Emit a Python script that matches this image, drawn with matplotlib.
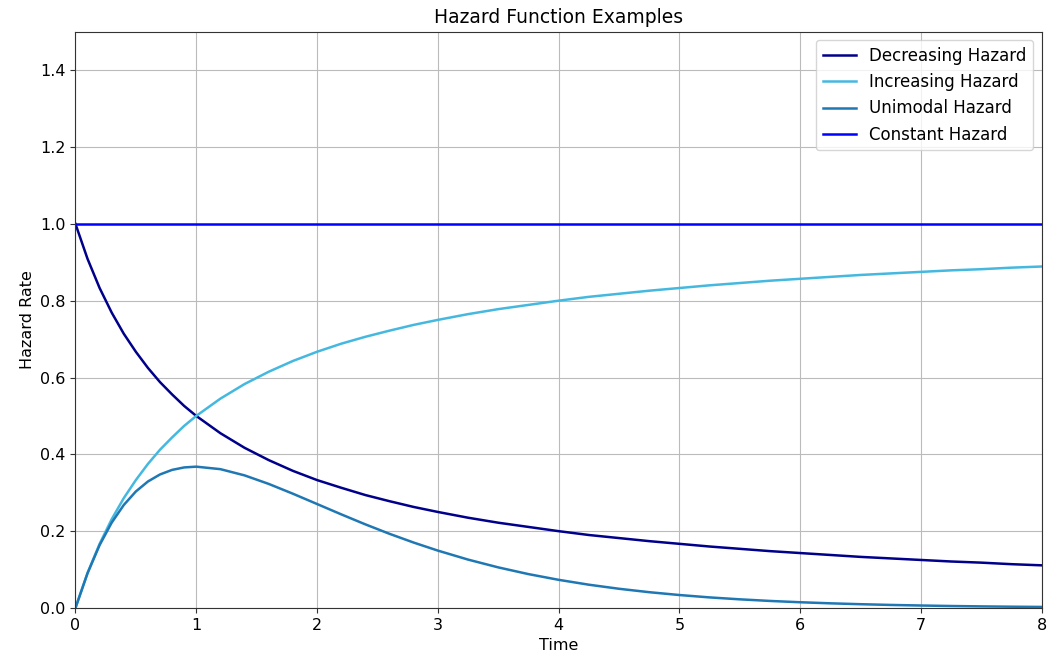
import matplotlib
matplotlib.use("Agg")
import matplotlib.pyplot as plt

# values
time = [0, 0.1, 0.2, 0.3, 0.4, 0.5, 0.6, 0.7, 0.8, 0.9, 1.0,
        1.2, 1.4, 1.6, 1.8, 2.0, 2.2, 2.4, 2.6, 2.8, 3.0,
        3.25, 3.5, 3.75, 4.0, 4.25, 4.5, 4.75, 5.0, 5.25, 5.5,
        5.75, 6.0, 6.25, 6.5, 6.75, 7.0, 7.25, 7.5, 7.75, 8.0]
decreasing = [1.0, 0.909, 0.833, 0.769, 0.714, 0.667, 0.625, 0.588, 0.556, 0.526, 0.5,
              0.455, 0.417, 0.385, 0.357, 0.333, 0.313, 0.294, 0.278, 0.263, 0.25,
              0.235, 0.222, 0.211, 0.2, 0.190, 0.182, 0.174, 0.167, 0.160, 0.154,
              0.148, 0.143, 0.138, 0.133, 0.129, 0.125, 0.121, 0.118, 0.114, 0.111]
increasing = [0.0, 0.091, 0.167, 0.231, 0.286, 0.333, 0.375, 0.412, 0.444, 0.474, 0.5,
              0.545, 0.583, 0.615, 0.643, 0.667, 0.688, 0.706, 0.722, 0.737, 0.75,
              0.765, 0.778, 0.789, 0.8, 0.81, 0.818, 0.826, 0.833, 0.84, 0.846,
              0.852, 0.857, 0.862, 0.867, 0.871, 0.875, 0.879, 0.882, 0.886, 0.889]
unimodal = [0.0, 0.0905, 0.1637, 0.2222, 0.2681, 0.3033, 0.3293, 0.3476, 0.3595, 0.3659, 0.3679,
            0.3614, 0.3452, 0.3230, 0.2975, 0.2707, 0.2438, 0.2177, 0.1931, 0.1703, 0.1494,
            0.1260, 0.1057, 0.0882, 0.0733, 0.0606, 0.0500, 0.0411, 0.0337, 0.0275, 0.0225,
            0.0183, 0.0149, 0.0121, 0.0098, 0.0079, 0.0064, 0.0051, 0.0041, 0.0033, 0.0027]
constant = [1.0] * len(time)

fig, ax = plt.subplots(figsize=(10.48, 6.63), dpi=100)
ax.plot(time, decreasing, color='#00008b', lw=1.8, label='Decreasing Hazard')
ax.plot(time, increasing, color='#45b8e0', lw=1.8, label='Increasing Hazard')
ax.plot(time, unimodal, color='#1f77b4', lw=1.8, label='Unimodal Hazard')
ax.plot(time, constant, color='#0000ff', lw=1.8, label='Constant Hazard')

ax.set_xlim(0, 8)
ax.set_ylim(0, 1.5)
ax.set_xlabel('Time', fontsize=11.5)
ax.set_ylabel('Hazard Rate', fontsize=11.5)
ax.set_title('Hazard Function Examples', fontsize=13.5)
ax.tick_params(labelsize=11.5, color='#333333')
for s in ax.spines.values():
    s.set_color('#333333')
ax.grid(True, color='#bbbbbb')
ax.legend(fontsize=12, loc='upper right')

fig.subplots_adjust(left=0.072, right=0.994, top=0.952, bottom=0.083)
fig.savefig('out.png')
